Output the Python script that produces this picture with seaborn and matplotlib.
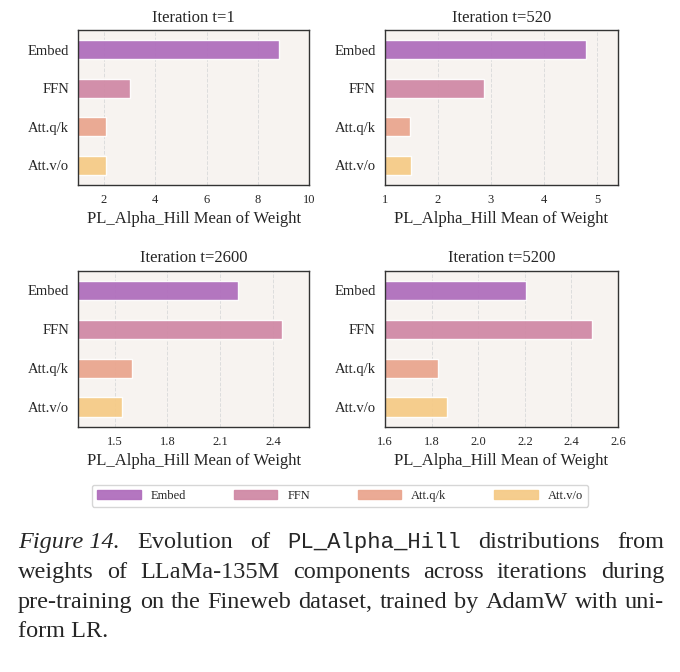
import matplotlib
matplotlib.use("Agg")
import matplotlib.pyplot as plt
import seaborn as sns
import pandas as pd
from matplotlib.patches import Patch

sns.set_style("white")
plt.rcParams['font.family'] = ['Liberation Serif', 'DejaVu Serif']

components = ['Embed', 'FFN', 'Att.q/k', 'Att.v/o']
colors = ['#b06fbd', '#d08aa6', '#eaa68f', '#f5cb88']
titles = ['Iteration t=1', 'Iteration t=520', 'Iteration t=2600', 'Iteration t=5200']
vals_t1 = [8.8, 3.0, 2.1, 2.1]
vals_t520 = [4.8, 2.87, 1.47, 1.5]
vals_t2600 = [2.20, 2.45, 1.596, 1.54]
vals_t5200 = [2.203, 2.487, 1.828, 1.867]
all_vals = [vals_t1, vals_t520, vals_t2600, vals_t5200]
xlims = [(1, 10), (1, 5.4), (1.292, 2.608), (1.6, 2.6)]
xticks = [[2, 4, 6, 8, 10], [1, 2, 3, 4, 5], [1.5, 1.8, 2.1, 2.4], [1.6, 1.8, 2.0, 2.2, 2.4, 2.6]]
tick_fmt = ['{:g}', '{:g}', '{:.1f}', '{:.1f}']

fig = plt.figure(figsize=(6.8, 6.72), dpi=100)
boxes = [[0.115, 0.725, 0.34, 0.23], [0.566, 0.725, 0.343, 0.23],
         [0.115, 0.365, 0.34, 0.232], [0.566, 0.365, 0.343, 0.232]]

for box, title, vals, xl, xt, fmt in zip(boxes, titles, all_vals, xlims, xticks, tick_fmt):
    ax = fig.add_axes(box)
    ax.set_facecolor('#f7f3f0')
    df = pd.DataFrame({'component': components, 'value': vals})
    sns.barplot(data=df, y='component', x='value', hue='component', palette=colors,
                legend=False, width=0.5, alpha=0.95, saturation=1, ax=ax)
    ax.set_xlim(*xl)
    ax.set_xticks(xt)
    ax.set_xticklabels([fmt.format(t) for t in xt], fontsize=9)
    ax.grid(axis='x', linestyle='--', color='#dddddd', linewidth=0.7)
    ax.set_axisbelow(True)
    ax.set_title(title, fontsize=12)
    ax.set_xlabel('PL_Alpha_Hill Mean of Weight', fontsize=12)
    ax.set_ylabel('')
    ax.tick_params(axis='y', labelsize=10.5, length=3)
    ax.tick_params(axis='x', length=3)
    for s in ax.spines.values():
        s.set_color('#333333')
        s.set_linewidth(1.0)

handles = [Patch(color=c, alpha=0.95, label=n) for c, n in zip(colors, components)]
fig.legend(handles=handles, loc='center', bbox_to_anchor=(0.5, 0.262), ncol=4,
           fontsize=9, frameon=True, handlelength=3.5, columnspacing=3.8)

# justified caption
fs = 17.5
lines = [
    [('Figure 14.', dict(style='italic')), ('Evolution', {}), ('of', {}),
     ('PL_Alpha_Hill', dict(family='Liberation Mono', fontsize=16)), ('distributions', {}), ('from', {})],
    [(w, {}) for w in 'weights of LLaMa-135M components across iterations during'.split()],
    [(w, {}) for w in 'pre-training on the Fineweb dataset, trained by AdamW with uni-'.split()],
    [('form LR.', {})],
]
x0, x1 = 18, 664
ys = [0.192, 0.148, 0.104, 0.060]
fig.canvas.draw()
r = fig.canvas.get_renderer()
for i, (words, y) in enumerate(zip(lines, ys)):
    texts = []
    for w, kw in words:
        kw = dict(kw)
        kw.setdefault('fontsize', fs)
        texts.append(fig.text(0, y, w, va='center', **kw))
    widths = [t.get_window_extent(r).width for t in texts]
    if i == len(lines) - 1:
        gap = 5
    else:
        gap = (x1 - x0 - sum(widths)) / (len(texts) - 1)
    x = x0
    for t, w in zip(texts, widths):
        t.set_x(x / fig.bbox.width)
        x += w + gap

fig.savefig('out.png', dpi=100, facecolor='white')
